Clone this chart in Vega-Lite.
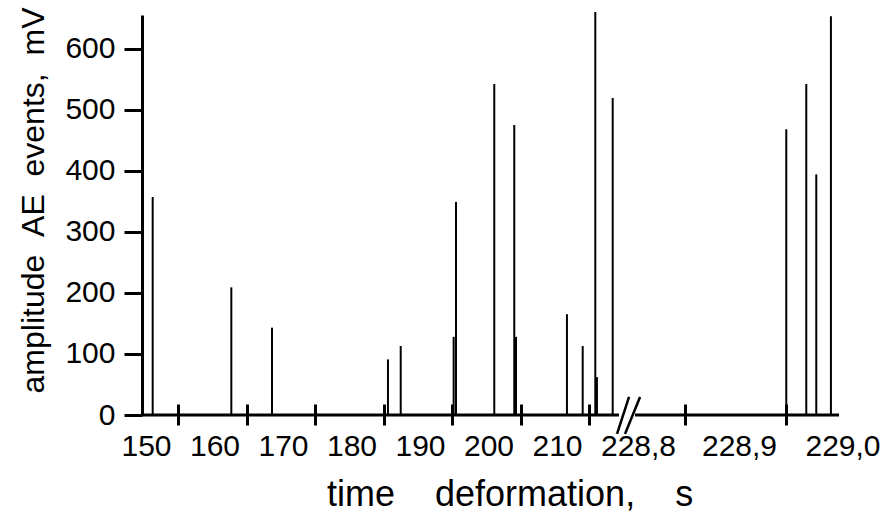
{
  "$schema": "https://vega.github.io/schema/vega-lite/v6.json",
  "padding": {"left": 16, "top": 7, "right": 0, "bottom": 0},
  "background": "white",
  "bounds": "flush",
  "config": {
    "view": {"stroke": null},
    "font": "Liberation Sans",
    "axis": {
      "labelFont": "Liberation Sans",
      "titleFont": "Liberation Sans",
      "labelColor": "black",
      "titleColor": "black",
      "domainColor": "black",
      "tickColor": "black",
      "labelFontSize": 30,
      "grid": false
    }
  },
  "datasets": {
    "left": [
      {"t": 146.30, "amp": 357},
      {"t": 157.78, "amp": 209},
      {"t": 163.72, "amp": 143},
      {"t": 180.65, "amp": 91},
      {"t": 182.51, "amp": 113},
      {"t": 190.24, "amp": 128},
      {"t": 190.58, "amp": 349},
      {"t": 196.17, "amp": 542},
      {"t": 199.09, "amp": 475},
      {"t": 199.34, "amp": 128},
      {"t": 206.78, "amp": 165},
      {"t": 209.08, "amp": 113},
      {"t": 210.92, "amp": 660},
      {"t": 211.16, "amp": 62},
      {"t": 213.46, "amp": 519}
    ],
    "right": [
      {"t": 228.9003, "amp": 468},
      {"t": 228.9201, "amp": 542},
      {"t": 228.9300, "amp": 394},
      {"t": 228.9445, "amp": 653}
    ],
    "brk": [
      {"x0": 228.7327, "x1": 228.7446, "y0": -31, "y1": 29.5},
      {"x0": 228.7406, "x1": 228.7555, "y0": -31, "y1": 29.5}
    ]
  },
  "title": {
    "text": "time\u00a0\u00a0\u00a0\u00a0deformation,\u00a0\u00a0\u00a0\u00a0s",
    "orient": "bottom",
    "anchor": "start",
    "frame": "group",
    "fontSize": 36,
    "fontWeight": "normal",
    "font": "Liberation Sans",
    "color": "black",
    "offset": 17,
    "dx": 185
  },
  "spacing": 16,
  "hconcat": [
    {
      "width": 477,
      "height": 400,
      "layer": [
        {
          "data": {"name": "left"},
          "mark": {"type": "rule", "strokeWidth": 2, "color": "black"},
          "encoding": {
            "x": {
              "field": "t",
              "type": "quantitative",
              "scale": {"domain": [144.74, 214.38], "nice": false, "zero": false},
              "axis": {
                "values": [150, 160, 170, 180, 190, 200, 210],
                "format": "d",
                "title": null,
                "offset": -11,
                "domain": false,
                "tickSize": 21,
                "tickWidth": 3,
                "labelOffset": -32,
                "labelBaseline": "alphabetic",
                "labelPadding": 30,
                "labelFlush": false,
                "labelOverlap": false
              }
            },
            "y": {
              "field": "amp",
              "type": "quantitative",
              "scale": {"domain": [0, 655], "nice": false, "zero": true},
              "axis": {
                "values": [0, 100, 200, 300, 400, 500, 600],
                "title": "amplitude\u00a0\u00a0AE\u00a0\u00a0events,\u00a0\u00a0mV",
                "titleFontSize": 32,
                "titleFontWeight": "normal",
                "titleX": -109,
                "titleY": 185,
                "titleAngle": -90,
                "titleAlign": "center",
                "titleBaseline": "middle",
                "domainWidth": 3,
                "tickWidth": 3,
                "tickSize": 18,
                "labelPadding": 9,
                "labelFlush": false,
                "labelOverlap": false
              }
            },
            "y2": {"datum": 0}
          }
        },
        {
          "data": {"values": [{"amp": 0}]},
          "mark": {"type": "rule", "strokeWidth": 3, "color": "black"},
          "encoding": {"y": {"field": "amp", "type": "quantitative"}}
        }
      ]
    },
    {
      "width": 204,
      "height": 400,
      "layer": [
        {
          "data": {"name": "right"},
          "mark": {"type": "rule", "strokeWidth": 2, "color": "black"},
          "encoding": {
            "x": {
              "field": "t",
              "type": "quantitative",
              "scale": {"domain": [228.7505, 228.9525], "nice": false, "zero": false},
              "axis": {
                "values": [228.8, 228.9, 228.95],
                "labelExpr": "datum.value < 228.85 ? '228,8' : (datum.value < 228.925 ? '228,9' : '229,0')",
                "title": null,
                "offset": -11,
                "domain": false,
                "tickSize": 21,
                "tickWidth": 3,
                "tickOpacity": {"condition": {"test": "datum.value > 228.925", "value": 0}, "value": 1},
                "labelOffset": {"condition": {"test": "datum.value > 228.925", "value": 6}, "value": -47},
                "labelBaseline": "alphabetic",
                "labelPadding": 30,
                "labelFlush": false,
                "labelOverlap": false
              }
            },
            "y": {
              "field": "amp",
              "type": "quantitative",
              "scale": {"domain": [0, 655], "nice": false, "zero": true},
              "axis": null
            },
            "y2": {"datum": 0}
          }
        },
        {
          "data": {"values": [{"amp": 0}]},
          "mark": {"type": "rule", "strokeWidth": 3, "color": "black"},
          "encoding": {"y": {"field": "amp", "type": "quantitative"}}
        },
        {
          "data": {"name": "brk"},
          "mark": {"type": "rule", "strokeWidth": 2.5, "color": "black", "clip": false},
          "encoding": {
            "x": {"field": "x0", "type": "quantitative"},
            "x2": {"field": "x1"},
            "y": {"field": "y0", "type": "quantitative"},
            "y2": {"field": "y1"}
          }
        }
      ]
    }
  ]
}
